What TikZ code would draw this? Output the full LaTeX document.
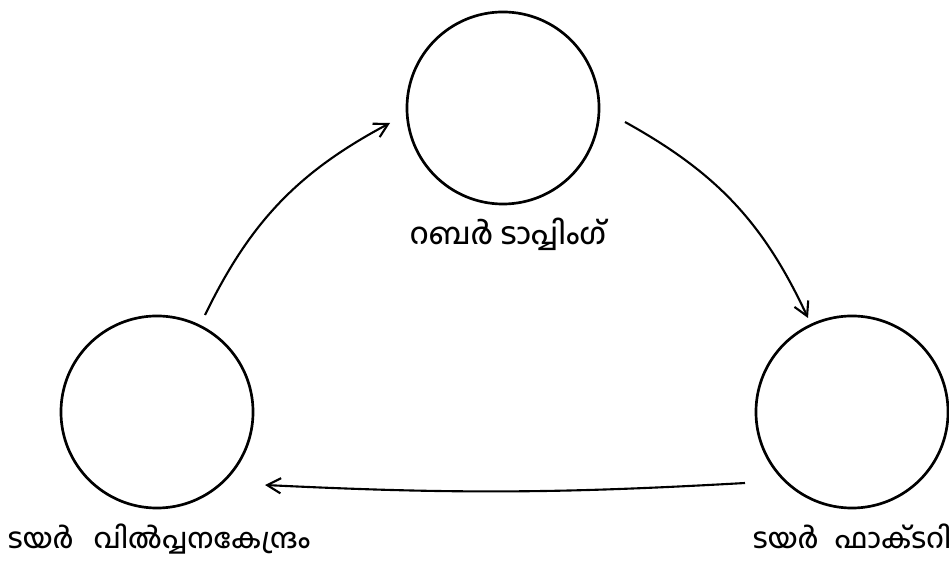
\documentclass[tikz,border=0pt]{standalone}
\usepackage{fontspec}
\newfontfamily\mlfont[Script=Malayalam]{Hind Kochi Medium}
\usetikzlibrary{arrows.meta, positioning, calc}

\tikzset{
  stage/.style={draw, circle, line width=1.9pt, minimum size=4.8cm, inner sep=0pt},
  stagelabel/.style={font=\mlfont\fontsize{19.5}{22}\selectfont, anchor=base},
  flow/.style={line width=1.5pt, -{Straight Barb[length=3.4mm, width=3.8mm, line width=1.5pt]}}
}

\begin{document}
\begin{tikzpicture}[x=0.025cm, y=-0.025cm]
    \useasboundingbox (0,0) rectangle (949,563);
    \node[stage] (tapping) at (503,108) {};
    \node[stage] (sales) at (157,412) {};
    \node[stage] (factory) at (852,412) {};
    % labels
    \node[stagelabel, font=\mlfont\fontsize{21}{24}\selectfont] (lbltapping) at (508,245) {റബർ ടാപ്പിംഗ്};
    \node[stagelabel] (lblsales) at (159,549) {ടയർ\hspace{0.5cm}വിൽപ്പനകേന്ദ്രം};
    \node[stagelabel] (lblfactory) at (852,549) {ടയർ\hspace{0.4cm}ഫാക്ടറി};
    % arrow ends, a little off the circles
    \coordinate (salesout) at ($(sales)+(48,-97)$);
    \coordinate (tappingin) at ($(tapping)+(-113,15)$);
    \coordinate (tappingout) at ($(tapping)+(122,14)$);
    \coordinate (factoryin) at ($(factory)+(-44,-94)$);
    \coordinate (factoryout) at ($(factory)+(-107,71)$);
    \coordinate (salesin) at ($(sales)+(108,73)$);
    \draw[flow] (salesout) to[bend left=18] (tappingin);
    \draw[flow] (tappingout) to[bend left=18] (factoryin);
    \draw[flow] (factoryout) to[bend left=3] (salesin);
\end{tikzpicture}
\end{document}
